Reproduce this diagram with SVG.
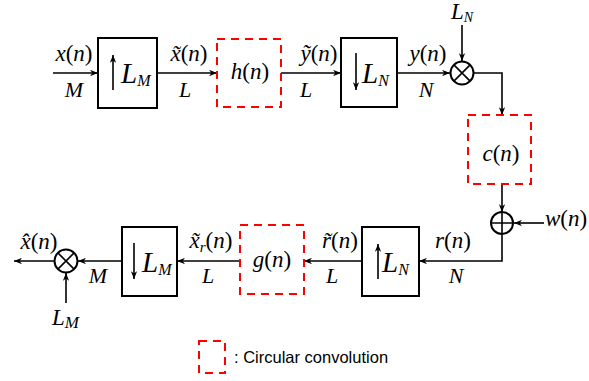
<svg xmlns="http://www.w3.org/2000/svg" width="589" height="381" viewBox="0 0 589 381">
<defs>
<style>
.box{fill:none;stroke:#000;stroke-width:2}
.conv{fill:none;stroke:#f00;stroke-width:2;stroke-dasharray:8,6}
.w{fill:none;stroke:#000;stroke-width:1.6}
.m{font-family:"Liberation Serif","DejaVu Serif",serif;font-style:italic;font-size:23px;fill:#000}
.k{font-family:"Liberation Serif","DejaVu Serif",serif;font-style:italic;font-size:22px;fill:#000}
.mb{font-family:"Liberation Serif","DejaVu Serif",serif;font-style:italic;font-size:29px;fill:#000}
.s{font-family:"Liberation Sans",Arial,sans-serif;font-size:16.5px;fill:#000}
.r{font-style:normal}
</style>
<marker id="ah" viewBox="0 0 10 8" refX="10" refY="4" markerWidth="8" markerHeight="6.4" markerUnits="userSpaceOnUse" orient="auto">
<path d="M0,0 L10,4 L0,8 L3,4 Z" fill="#000"/>
</marker>
</defs>

<g id="connectors">
<line class="w" x1="53" y1="73" x2="98" y2="73" marker-end="url(#ah)"/>
<line class="w" x1="157" y1="73" x2="217" y2="73" marker-end="url(#ah)"/>
<line class="w" x1="281" y1="73" x2="341" y2="73" marker-end="url(#ah)"/>
<line class="w" x1="397" y1="73" x2="450" y2="73" marker-end="url(#ah)"/>
<line class="w" x1="462" y1="25" x2="462" y2="61" marker-end="url(#ah)"/>
<polyline class="w" points="474,73 502,73 502,115" marker-end="url(#ah)"/>
<line class="w" x1="502" y1="184" x2="502" y2="212" marker-end="url(#ah)"/>
<line class="w" x1="544" y1="223" x2="514" y2="223" marker-end="url(#ah)"/>
<polyline class="w" points="502,234 502,261 419,261" marker-end="url(#ah)"/>
<line class="w" x1="362" y1="261" x2="304" y2="261" marker-end="url(#ah)"/>
<line class="w" x1="240" y1="261" x2="177" y2="261" marker-end="url(#ah)"/>
<line class="w" x1="122" y1="261" x2="78" y2="261" marker-end="url(#ah)"/>
<line class="w" x1="54" y1="261" x2="14" y2="261" marker-end="url(#ah)"/>
<line class="w" x1="66" y1="303" x2="66" y2="273" marker-end="url(#ah)"/>
</g>

<g id="upLM">
<rect class="box" x="98" y="38" width="59" height="70"/>
<line class="w" x1="113" y1="90" x2="113" y2="55" marker-end="url(#ah)"/>
<text class="mb" x="121" y="83">L<tspan font-size="16" dy="3">M</tspan></text>
</g>

<g id="h">
<rect class="conv" x="217" y="39" width="64" height="68"/>
<text class="m" x="250" y="79" text-anchor="middle" font-size="24">h<tspan class="r">(</tspan>n<tspan class="r">)</tspan></text>
</g>

<g id="downLN">
<rect class="box" x="341" y="38" width="56" height="69"/>
<line class="w" x1="356" y1="53" x2="356" y2="90" marker-end="url(#ah)"/>
<text class="mb" x="362" y="83">L<tspan font-size="16" dy="3">N</tspan></text>
</g>

<g id="mult1">
<circle class="box" cx="462" cy="73" r="11.5"/>
<path class="w" d="M453.9,64.9 L470.1,81.1 M470.1,64.9 L453.9,81.1"/>
</g>

<g id="c">
<rect class="conv" x="468" y="115" width="63" height="69"/>
<text class="m" x="501" y="161" text-anchor="middle" font-size="24">c<tspan class="r">(</tspan>n<tspan class="r">)</tspan></text>
</g>

<g id="adder">
<circle class="box" cx="502" cy="223" r="11"/>
<path class="w" d="M491,223 H513 M502,212 V234"/>
</g>

<g id="upLN">
<rect class="box" x="362" y="227" width="57" height="69"/>
<line class="w" x1="378" y1="279" x2="378" y2="244" marker-end="url(#ah)"/>
<text class="mb" x="382" y="272">L<tspan font-size="16" dy="3">N</tspan></text>
</g>

<g id="g">
<rect class="conv" x="240" y="225" width="64" height="69"/>
<text class="m" x="272" y="267" text-anchor="middle" font-size="24">g<tspan class="r">(</tspan>n<tspan class="r">)</tspan></text>
</g>

<g id="downLM">
<rect class="box" x="122" y="227" width="55" height="69"/>
<line class="w" x1="134" y1="243" x2="134" y2="279" marker-end="url(#ah)"/>
<text class="mb" x="142" y="272">L<tspan font-size="16" dy="3">M</tspan></text>
</g>

<g id="mult2">
<circle class="box" cx="66" cy="261" r="11.5"/>
<path class="w" d="M57.9,252.9 L74.1,269.1 M74.1,252.9 L57.9,269.1"/>
</g>

<g id="labels">
<text class="m" x="74" y="61" text-anchor="middle">x<tspan class="r">(</tspan>n<tspan class="r">)</tspan></text>
<text class="k" x="74" y="97" text-anchor="middle">M</text>
<text class="m" x="189" y="61" text-anchor="middle">x̃<tspan class="r">(</tspan>n<tspan class="r">)</tspan></text>
<text class="k" x="185" y="97" text-anchor="middle">L</text>
<text class="m" x="319" y="61" text-anchor="middle">ỹ<tspan class="r">(</tspan>n<tspan class="r">)</tspan></text>
<text class="k" x="306" y="97" text-anchor="middle">L</text>
<text class="m" x="428" y="61" text-anchor="middle">y<tspan class="r">(</tspan>n<tspan class="r">)</tspan></text>
<text class="k" x="426" y="97" text-anchor="middle">N</text>
<text class="m" x="451" y="19" font-size="20">L<tspan font-size="14" dy="3">N</tspan></text>
<text class="m" x="545" y="226">w<tspan class="r">(</tspan>n<tspan class="r">)</tspan></text>
<text class="m" x="453" y="248" text-anchor="middle">r<tspan class="r">(</tspan>n<tspan class="r">)</tspan></text>
<text class="k" x="456" y="283" text-anchor="middle">N</text>
<text class="m" x="340" y="248" text-anchor="middle">r̃<tspan class="r">(</tspan>n<tspan class="r">)</tspan></text>
<text class="k" x="332" y="283" text-anchor="middle">L</text>
<text class="m" x="211" y="248" text-anchor="middle">x̃<tspan font-size="15" dy="4">r</tspan><tspan class="r" dy="-4">(</tspan>n<tspan class="r">)</tspan></text>
<text class="k" x="208" y="283" text-anchor="middle">L</text>
<text class="k" x="98" y="283" text-anchor="middle">M</text>
<text class="m" x="39" y="249" text-anchor="middle">x̂<tspan class="r">(</tspan>n<tspan class="r">)</tspan></text>
<text class="m" x="52" y="325" font-size="25">L<tspan font-size="17" dy="3">M</tspan></text>
</g>

<g id="legend">
<rect class="conv" x="199" y="341" width="26" height="32"/>
<text class="s" x="234" y="363">: Circular convolution</text>
</g>
</svg>
